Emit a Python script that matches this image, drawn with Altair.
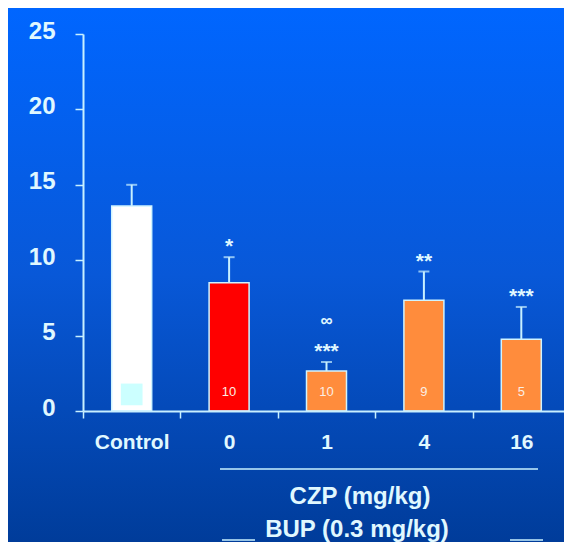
import altair as alt
import pandas as pd

# ---- data ----
categories = ["Control", "0", "1", "4", "16"]
means = [13.6, 8.5, 2.65, 7.35, 4.75]
err_tops = [15.0, 10.2, 3.25, 9.25, 6.9]
bar_colors = ["#ffffff", "#ff0000", "#ff8c3c", "#ff8c3c", "#ff8c3c"]
n_labels = ["", "10", "10", "9", "5"]
sig_labels = ["", "*", "***", "**", "***"]
extra_labels = ["", "", "∞", "", ""]
y_ticks = [0, 5, 10, 15, 20, 25]

df = pd.DataFrame({
    "cat": categories, "mean": means, "top": err_tops, "color": bar_colors,
    "n": n_labels, "sig": sig_labels, "extra": extra_labels,
})
one = pd.DataFrame({"k": [0]})

FONT = "Liberation Sans"
LINE = "#c8f0ff"
TXT = "#e0f8ff"

W, H = 481, 377

x_enc = alt.X(
    "cat:N", sort=categories,
    scale=alt.Scale(range=[0, 487], paddingInner=0, paddingOuter=0),
    axis=alt.Axis(title=None, labelAngle=0, tickBand="extent", tickSize=7, tickWidth=1.5,
                  domainWidth=2, domainColor=LINE, tickColor=LINE, labelColor=TXT,
                  labelFont=FONT, labelFontSize=21, labelFontWeight="bold", labelPadding=13,
                  zindex=2),
)
y_scale = alt.Scale(domain=[0, 25], nice=False, zero=True)
y_axis = alt.Axis(title=None, values=y_ticks, tickSize=8, tickWidth=1.5, domainWidth=2,
                  domainColor=LINE, tickColor=LINE, labelColor=TXT, labelFont=FONT,
                  labelFontSize=24, labelFontWeight="bold", labelPadding=20, labelOffset=-3,
                  grid=False, zindex=2)

bg = alt.Chart(one).mark_rect(
    fill=alt.Gradient(gradient="linear", x1=0, x2=0, y1=0, y2=1,
                      stops=[alt.GradientStop(color="#0066ff", offset=0),
                             alt.GradientStop(color="#0858d8", offset=0.5),
                             alt.GradientStop(color="#003c9a", offset=1)])
).encode(x=alt.value(-75), x2=alt.value(481), y=alt.value(-26), y2=alt.value(508))

base = alt.Chart(df)

bars = base.mark_bar(size=40, stroke="#d0f4ff", strokeWidth=1.5).encode(
    x=x_enc,
    y=alt.Y("mean:Q", scale=y_scale, axis=y_axis),
    fill=alt.Fill("color:N", scale=None),
)
err = base.mark_rule(color=LINE, strokeWidth=2).encode(
    x=x_enc, y=alt.Y("mean:Q", scale=y_scale, axis=y_axis), y2="top:Q")
cap = base.mark_tick(color=LINE, size=11, thickness=2).encode(
    x=x_enc, y=alt.Y("top:Q", scale=y_scale, axis=y_axis))
sig = base.mark_text(color=TXT, font=FONT, fontSize=21, fontWeight="bold", dy=-4,
                     baseline="alphabetic").encode(
    x=x_enc, y=alt.Y("top:Q", scale=y_scale, axis=y_axis), text="sig:N")
extra = base.mark_text(color=TXT, font=FONT, fontSize=17, fontWeight="bold", dy=-41,
                       baseline="middle").encode(
    x=x_enc, y=alt.Y("top:Q", scale=y_scale, axis=y_axis), text="extra:N")
nlab = base.mark_text(color="#fbeee4", font=FONT, fontSize=13, dy=-19,
                      baseline="middle").encode(
    x=x_enc, y=alt.datum(0, scale=y_scale), text="n:N")
sq = base.transform_filter(alt.datum.cat == "Control").mark_square(
    size=470, color="#ccffff", opacity=1).encode(
    x=x_enc, y=alt.datum(1.1, scale=y_scale))

line1 = alt.Chart(one).mark_rule(color=LINE, strokeWidth=1.5).encode(
    x=alt.value(137), x2=alt.value(455), y=alt.value(435))
czp = alt.Chart(one).mark_text(text="CZP (mg/kg)", color=TXT, font=FONT, fontSize=24,
                               fontWeight="bold", baseline="middle").encode(
    x=alt.value(277), y=alt.value(463))
bup = alt.Chart(one).mark_text(text="BUP (0.3 mg/kg)", color=TXT, font=FONT, fontSize=24,
                               fontWeight="bold", baseline="middle").encode(
    x=alt.value(274), y=alt.value(496))
l2 = alt.Chart(one).mark_rule(color=LINE, strokeWidth=1.5).encode(
    x=alt.value(139), x2=alt.value(172), y=alt.value(506))
l3 = alt.Chart(one).mark_rule(color=LINE, strokeWidth=1.5).encode(
    x=alt.value(427), x2=alt.value(460), y=alt.value(506))

chart = alt.layer(bg, bars, err, cap, sig, extra, nlab, sq, line1, czp, bup, l2, l3).properties(
    width=W, height=H,
    autosize=alt.AutoSizeParams(type="none"),
    padding={"left": 75, "top": 26, "right": 0, "bottom": 131},
    background="#0858d8",
).configure_view(stroke=None)

chart.save("out.html", embed_options={"renderer": "svg", "actions": False})
